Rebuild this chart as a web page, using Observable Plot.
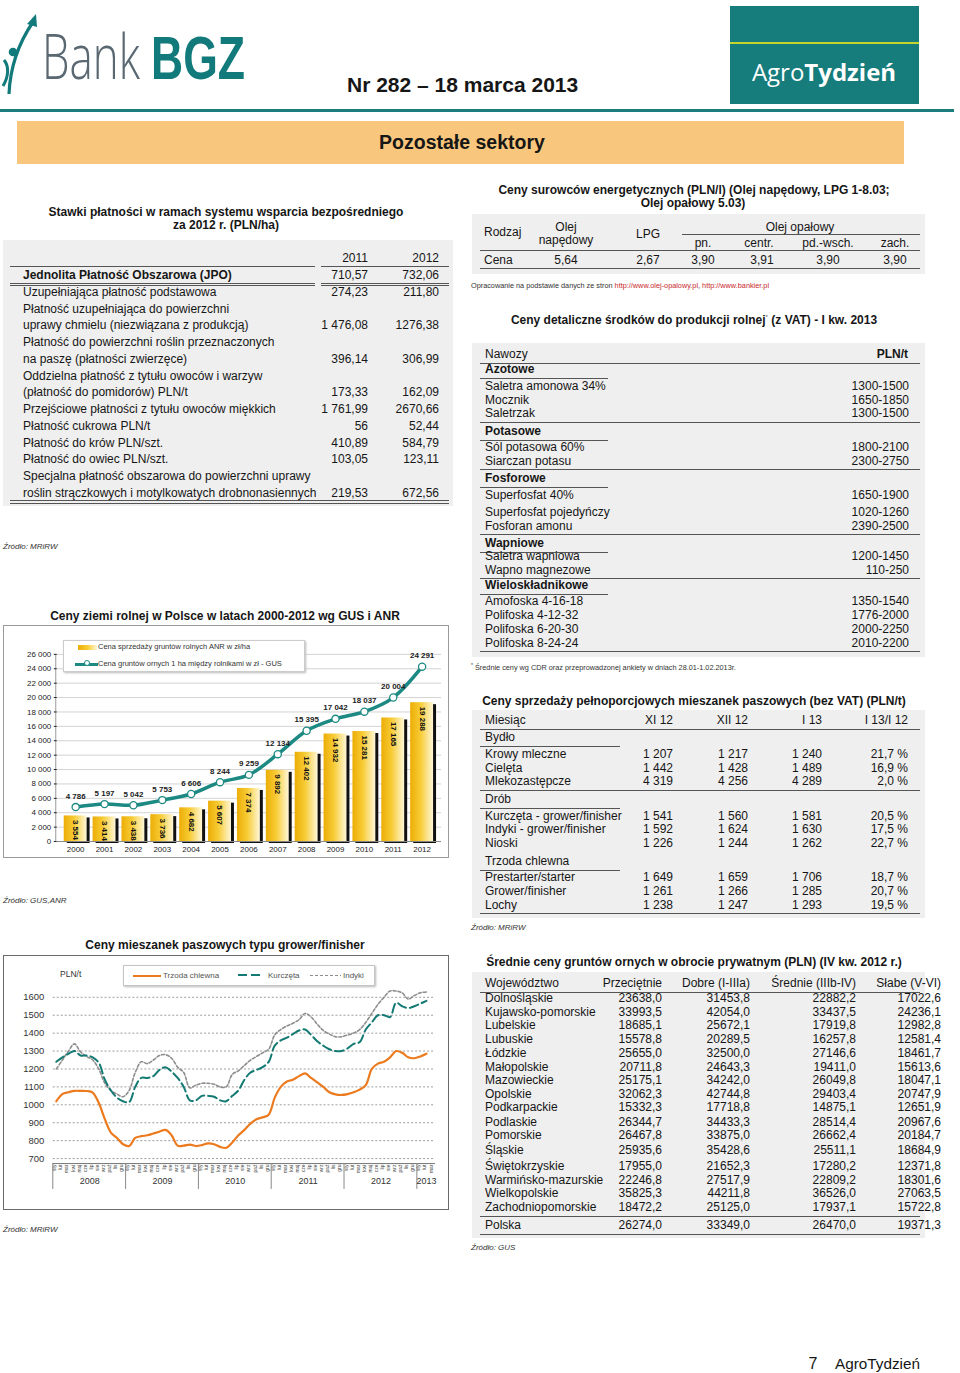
<!DOCTYPE html>
<html><head><meta charset="utf-8">
<script src="https://cdn.jsdelivr.net/npm/d3@7"></script>
<script src="https://cdn.jsdelivr.net/npm/@observablehq/plot@0.6"></script>
<style>
html,body{margin:0;padding:0;background:#fff;overflow:hidden;}
#page{position:relative;width:960px;height:1373px;font-family:"Liberation Sans",Arial,sans-serif;color:#111;}
</style></head>
<body><div id="page"></div>
<script>
// ---------------- DATA ----------------
const landYears = ["2000","2001","2002","2003","2004","2005","2006","2007","2008","2009","2010","2011","2012"];
const anrPrice = [3554,3414,3438,3736,4682,5607,7374,9892,12402,14932,15281,17165,19288];
const gusPrice = [4786,5197,5042,5753,6606,8244,9259,12134,15395,17042,18037,20004,24291];
const landTicks = [0,2000,4000,6000,8000,10000,12000,14000,16000,18000,20000,22000,24000,26000];

// monthly Jan 2008 - Feb 2013
const pigFeed = [1020,1060,1070,1078,1078,1077,1068,1010,920,845,815,780,
  770,815,825,830,840,850,860,830,772,772,778,770,
  775,785,780,765,760,790,830,860,895,920,930,945,
  1040,1100,1130,1140,1160,1175,1150,1125,1100,1070,1058,1055,
  1060,1070,1085,1110,1200,1230,1240,1265,1300,1290,1265,1260,
  1270,1285];
const chickenFeed = [1240,1265,1285,1300,1275,1275,1265,1235,1140,1080,1040,1020,
  1015,1100,1150,1150,1160,1195,1210,1185,1150,1100,1025,1025,
  1050,1050,1045,1025,1020,1050,1080,1140,1180,1195,1210,1240,
  1330,1360,1375,1395,1415,1420,1390,1355,1330,1310,1300,1300,
  1315,1340,1350,1420,1460,1500,1500,1490,1570,1550,1540,1550,
  1565,1580];
const turkeyFeed = [1200,1250,1300,1340,1295,1270,1250,1200,1120,1080,1060,1045,
  1080,1180,1240,1230,1250,1275,1280,1260,1210,1180,1095,1110,
  1120,1120,1115,1100,1100,1170,1190,1220,1250,1270,1290,1310,
  1390,1420,1440,1455,1475,1510,1490,1450,1415,1395,1380,1380,
  1390,1400,1420,1460,1510,1560,1600,1635,1635,1625,1590,1610,
  1625,1630];
const feedTicks = [700,800,900,1000,1100,1200,1300,1400,1500,1600];
const feedYears = ["2008","2009","2010","2011","2012","2013"];
const monthAbbr = ["sty","lut","mar","kwi","maj","cze","lip","sie","wrz","paź","lis","gru"];
const feedSeriesNames = ["Trzoda chlewna","Kurczęta","Indyki"];

const paymentCols = ["2011","2012"];
const paymentRows = [
 ["Jednolita Płatność Obszarowa (JPO)","710,57","732,06"],
 ["Uzupełniająca płatność podstawowa","274,23","211,80"],
 ["Płatność uzupełniająca do powierzchni","",""],
 ["uprawy chmielu (niezwiązana z produkcją)","1 476,08","1276,38"],
 ["Płatność do powierzchni roślin przeznaczonych","",""],
 ["na paszę (płatności zwierzęce)","396,14","306,99"],
 ["Oddzielna płatność z tytułu owoców i warzyw","",""],
 ["(płatność do pomidorów) PLN/t","173,33","162,09"],
 ["Przejściowe płatności z tytułu owoców miękkich","1 761,99","2670,66"],
 ["Płatność cukrowa PLN/t","56","52,44"],
 ["Płatność do krów PLN/szt.","410,89","584,79"],
 ["Płatność do owiec PLN/szt.","103,05","123,11"],
 ["Specjalna płatność obszarowa do powierzchni uprawy","",""],
 ["roślin strączkowych i motylkowatych drobnonasiennych","219,53","672,56"]
];

const energyCols = ["pn.","centr.","pd.-wsch.","zach."];
const energyPrices = ["5,64","2,67","3,90","3,91","3,90","3,90"];

const fertGroups = ["Azotowe","Potasowe","Fosforowe","Wapniowe","Wieloskładnikowe"];
const fertItems = [
 [["Saletra amonowa 34%","1300-1500"],["Mocznik","1650-1850"],["Saletrzak","1300-1500"]],
 [["Sól potasowa 60%","1800-2100"],["Siarczan potasu","2300-2750"]],
 [["Superfosfat 40%","1650-1900"],["Superfosfat pojedyńczy","1020-1260"],["Fosforan amonu","2390-2500"]],
 [["Saletra wapniowa","1200-1450"],["Wapno magnezowe","110-250"]],
 [["Amofoska 4-16-18","1350-1540"],["Polifoska 4-12-32","1776-2000"],["Polifoska 6-20-30","2000-2250"],["Polifoska 8-24-24","2010-2200"]]
];

const mixCols = ["Miesiąc","XI 12","XII 12","I 13","I 13/I 12"];
const mixGroups = ["Bydło","Drób","Trzoda chlewna"];
const mixItems = [
 [["Krowy mleczne","1 207","1 217","1 240","21,7 %"],["Cielęta","1 442","1 428","1 489","16,9 %"],["Mlekozastępcze","4 319","4 256","4 289","2,0 %"]],
 [["Kurczęta - grower/finisher","1 541","1 560","1 581","20,5 %"],["Indyki - grower/finisher","1 592","1 624","1 630","17,5 %"],["Nioski","1 226","1 244","1 262","22,7 %"]],
 [["Prestarter/starter","1 649","1 659","1 706","18,7 %"],["Grower/finisher","1 261","1 266","1 285","20,7 %"],["Lochy","1 238","1 247","1 293","19,5 %"]]
];

const soilCols = ["Województwo","Przeciętnie","Dobre (I-IIIa)","Średnie (IIIb-IV)","Słabe (V-VI)"];
const soilRows = [
 ["Dolnośląskie","23638,0","31453,8","22882,2","17022,6"],
 ["Kujawsko-pomorskie","33993,5","42054,0","33437,5","24236,1"],
 ["Lubelskie","18685,1","25672,1","17919,8","12982,8"],
 ["Lubuskie","15578,8","20289,5","16257,8","12581,4"],
 ["Łódzkie","25655,0","32500,0","27146,6","18461,7"],
 ["Małopolskie","20711,8","24643,3","19411,0","15613,6"],
 ["Mazowieckie","25175,1","34242,0","26049,8","18047,1"],
 ["Opolskie","32062,3","42744,8","29403,4","20747,9"],
 ["Podkarpackie","15332,3","17718,8","14875,1","12651,9"],
 ["Podlaskie","26344,7","34433,3","28514,4","20967,6"],
 ["Pomorskie","26467,8","33875,0","26662,4","20184,7"],
 ["Śląskie","25935,6","35428,6","25511,1","18684,9"],
 ["Świętokrzyskie","17955,0","21652,3","17280,2","12371,8"],
 ["Warmińsko-mazurskie","22246,8","27517,9","22809,2","18301,6"],
 ["Wielkopolskie","35825,3","44211,8","36526,0","27063,5"],
 ["Zachodniopomorskie","18472,2","25125,0","17937,1","15722,8"]
];
const soilTotal = ["Polska","26274,0","33349,0","26470,0","19371,3"];

// ---------------- HELPERS ----------------
const page = document.getElementById("page");
const FONT = '"Liberation Sans", Arial, sans-serif';
function T(x, y, s, o = {}) {
  const d = document.createElement("div");
  if (o.html) d.innerHTML = s; else d.textContent = s;
  Object.assign(d.style, {position:"absolute", top:y+"px", whiteSpace:"nowrap", fontSize:(o.size||12)+"px",
    lineHeight:"1", fontFamily:o.family||FONT, fontWeight:o.weight||"normal", color:o.color||"#161616",
    fontStyle:o.style||"normal", letterSpacing:o.ls||"normal"});
  const a = o.anchor || "start";
  if (a === "start") { d.style.left = x+"px"; d.style.transform = "translateY(-50%)"; }
  else if (a === "end") { d.style.right = (960-x)+"px"; d.style.transform = "translateY(-50%)"; }
  else { d.style.left = x+"px"; d.style.transform = "translate(-50%,-50%)"; }
  page.appendChild(d); return d;
}
function R(x, y, w, h, bg, extra = {}) {
  const d = document.createElement("div");
  Object.assign(d.style, {position:"absolute", left:x+"px", top:y+"px", width:w+"px", height:h+"px", background:bg}, extra);
  page.appendChild(d); return d;
}
function L(x1, x2, y, c = "#444", t = 1) { return R(x1, y, x2-x1, t, c); }

// ---------------- HEADER ----------------
const ns = "http://www.w3.org/2000/svg";
const logo = document.createElementNS(ns, "svg");
logo.setAttribute("width", 300); logo.setAttribute("height", 100);
logo.style.cssText = "position:absolute;left:0;top:0";
logo.innerHTML = `
 <path d="M9 94 C 10 70, 18 44, 33 22" stroke="#137a7b" stroke-width="3.2" fill="none"/>
 <path d="M36 14 L27 24 L37 27 Z" fill="#137a7b"/>
 <circle cx="13" cy="52" r="4.3" fill="#137a7b"/>
 <path d="M4 60 C 9 66, 9 76, 3 86" stroke="#137a7b" stroke-width="3" fill="none"/>
 <g id="gBank" transform="translate(42,79)"><text font-family="Open Sans, Liberation Sans, sans-serif" font-weight="300" font-size="62" fill="#5a6872">Bank</text></g>
 <g id="gBGZ" transform="translate(151,79)"><text font-family="Liberation Sans, Arial, sans-serif" font-weight="bold" font-size="62" fill="#137a7b">BGZ</text></g>`;
page.appendChild(logo);
[["gBank", 42, 98], ["gBGZ", 151, 94]].forEach(([id, x, w]) => {
  const g = logo.querySelector("#" + id);
  const len = g.querySelector("text").getComputedTextLength() || w;
  g.setAttribute("transform", `translate(${x},79) scale(${w / len},1)`);
});
T(347, 84, "Nr 282 – 18 marca 2013", {size:21, weight:"bold", family:'"Liberation Sans Narrow", "Liberation Sans", Arial, sans-serif'});
R(730, 6, 189, 98, "#167c7c");
L(730, 919, 42, "#c3d52e", 2);
T(824, 72, 'Agro<b>Tydzień</b>', {html:true, size:24, color:"#fff", anchor:"middle", family:'"Open Sans", "Liberation Sans", sans-serif'});
L(0, 954, 109, "#1b7d7d", 3);
R(17, 121, 887, 43, "#f8c67c");
T(462, 143, "Pozostałe sektory", {size:19.5, weight:"bold", anchor:"middle"});

// ---------------- LEFT: payments table ----------------
T(226, 212, "Stawki płatności w ramach systemu wsparcia bezpośredniego", {size:12, weight:"bold", anchor:"middle"});
T(226, 225, "za 2012 r. (PLN/ha)", {size:12, weight:"bold", anchor:"middle"});
R(3, 240, 450, 266, "#efefef");
T(368, 258, paymentCols[0], {anchor:"end"});
T(439, 258, paymentCols[1], {anchor:"end"});
L(10, 315, 266, "#555"); L(321, 449, 266, "#555");
paymentRows.forEach((r, i) => {
  const y = 275 + i * 16.75;
  const bold = i === 0 ? "bold" : "normal";
  T(23, y, r[0], {weight:bold});
  if (r[1]) T(368, y, r[1], {anchor:"end"});
  if (r[2]) T(439, y, r[2], {anchor:"end"});
});
L(10, 315, 283, "#555"); L(10, 315, 285, "#555"); L(321, 449, 283, "#555"); L(321, 449, 285, "#555");
L(10, 449, 500, "#555"); L(10, 449, 502.5, "#555");
T(3, 547, "Źródło: MRiRW", {size:8, style:"italic", color:"#333"});

// ---------------- LEFT: land price chart ----------------
T(225, 616, "Ceny ziemi rolnej w Polsce w latach 2000-2012 wg GUS i ANR", {size:12, weight:"bold", anchor:"middle"});
const box1 = R(3, 625, 446, 233, "#fff", {border:"1px solid #9a9a9a", boxSizing:"border-box"});
const landData = landYears.map((y, i) => ({year:y, anr:anrPrice[i], gus:gusPrice[i]}));
const sp = d => d3.format(",")(d).replace(/,/g, "\u00a0");
const gradDefs = () => {
  const defs = document.createElementNS(ns, "defs");
  defs.innerHTML = `<linearGradient id="barGrad" x1="0" x2="1" y1="0" y2="0">
    <stop offset="0" stop-color="#ecad06"/><stop offset="0.45" stop-color="#f7cc35"/><stop offset="1" stop-color="#fff7d8"/></linearGradient>`;
  return defs;
};
const yAxisLine = (index, scales, values, dims) => {
  const l = document.createElementNS(ns, "line");
  l.setAttribute("x1", dims.marginLeft - 1); l.setAttribute("x2", dims.marginLeft - 1);
  l.setAttribute("y1", dims.marginTop); l.setAttribute("y2", dims.height - dims.marginBottom);
  l.setAttribute("stroke", "#999");
  return l;
};
const landChart = Plot.plot({
  width:446, height:233, marginLeft:54, marginRight:6, marginTop:29, marginBottom:16,
  style:{fontFamily:FONT, fontSize:"8px", color:"#222", background:"transparent", overflow:"visible"},
  x:{domain:landYears, paddingInner:0.19, paddingOuter:0.1, label:null},
  y:{domain:[0,26000], label:null},
  marks:[
    gradDefs,
    Plot.gridY(landTicks, {stroke:"#c8c8c8", strokeOpacity:0.8}),
    yAxisLine,
    Plot.axisY(landTicks, {tickSize:3, tickPadding:3, tickFormat:sp, fontSize:8, label:null}),
    Plot.axisX({tickSize:0, tickPadding:5, fontSize:8, label:null}),
    Plot.barY(landData, {x:"year", y:"anr", fill:"#111", dx:3, dy:2}),
    Plot.barY(landData, {x:"year", y:"anr", fill:"url(#barGrad)"}),
    Plot.ruleY([0], {stroke:"#888"}),
    Plot.text(landData, {x:"year", y:"anr", text:d => sp(d.anr), rotate:90, textAnchor:"start", dy:4, fontWeight:"bold", fontSize:8, fill:"#111"}),
    Plot.line(landData, {x:"year", y:"gus", stroke:"#1c8a82", strokeWidth:3.5, curve:"catmull-rom"}),
    Plot.dot(landData, {x:"year", y:"gus", r:3.6, fill:"#fff", stroke:"#1c8a82", strokeWidth:1.3}),
    Plot.text(landData, {x:"year", y:"gus", text:d => sp(d.gus), dy:-11, fontWeight:"bold", fontSize:8, fill:"#222"})
  ]
});
landChart.style.position = "absolute"; landChart.style.left = "-1px"; landChart.style.top = "-1px";
box1.appendChild(landChart);
// legend
R(63, 640, 242, 32, "#fff", {border:"1px solid #ccc", boxShadow:"1px 1px 2px #bbb", boxSizing:"border-box"});
R(78, 645, 19, 5, "linear-gradient(90deg,#ecad06,#f7cc35,#fff7d8)");
T(98, 647, "Cena sprzedaży gruntów rolnych ANR w zł/ha", {size:7.5, color:"#333"});
L(75, 98, 663, "#1c8a82", 3);
R(83.5, 660, 6, 6, "#fff", {border:"1.2px solid #1c8a82", borderRadius:"50%", boxSizing:"border-box"});
T(98, 664, "Cena gruntów ornych 1 ha między rolnikami w zł - GUS", {size:7.5, color:"#333"});
T(3, 901, "Źródło: GUS,ANR", {size:8, style:"italic", color:"#333"});

// ---------------- LEFT: feed price line chart ----------------
T(225, 945, "Ceny mieszanek paszowych typu grower/finisher", {size:12, weight:"bold", anchor:"middle"});
const box2 = R(3, 955, 446, 255, "#fff", {border:"1px solid #6a6a6a", boxSizing:"border-box"});
const feedRows = [];
[pigFeed, chickenFeed, turkeyFeed].forEach((arr, s) => arr.forEach((v, i) => feedRows.push({m:i + 0.5, v, s:feedSeriesNames[s]})));
const monthTicks = [];
for (let i = 0; i < 63; i++) monthTicks.push({m:i + 0.5, label:monthAbbr[i % 12]});
const yearMid = feedYears.map((y, i) => ({year:y, mid: i < 5 ? i * 12 + 6 : 61.5}));
const yearBounds = [0, 12, 24, 36, 48, 60];
const yearSep = (index, scales, values, dims) => {
  const g = document.createElementNS(ns, "g");
  const y0 = dims.height - dims.marginBottom + 5;
  for (const b of yearBounds) {
    const l = document.createElementNS(ns, "line");
    const x = scales.x(b);
    l.setAttribute("x1", x); l.setAttribute("x2", x);
    l.setAttribute("y1", y0); l.setAttribute("y2", y0 + 26);
    l.setAttribute("stroke", "#888");
    g.appendChild(l);
  }
  return g;
};
const feedChart = Plot.plot({
  width:446, height:255, marginLeft:50, marginRight:12, marginTop:42, marginBottom:51,
  style:{fontFamily:FONT, fontSize:"9px", color:"#333", background:"transparent", overflow:"visible"},
  x:{domain:[0,63], label:null, axis:null},
  y:{domain:[700,1600], label:null},
  marks:[
    Plot.ruleY(feedTicks, {stroke:"#9c9c9c", strokeDasharray:"2,2"}),
    Plot.axisY(feedTicks, {tickSize:0, tickPadding:9, fontSize:9.5, label:null, fill:"#333", tickFormat:d => String(d)}),
    Plot.ruleY([700], {stroke:"#777", dy:5}),
    yearSep,
    Plot.text(monthTicks, {x:"m", text:"label", frameAnchor:"bottom", rotate:-90, textAnchor:"end", dy:6, fontSize:5, fill:"#444"}),
    Plot.text(yearMid, {x:"mid", text:"year", frameAnchor:"bottom", dy:26, fontSize:9, fill:"#333"}),
    Plot.line(feedRows.filter(d => d.s === "Indyki"), {x:"m", y:"v", stroke:"#8d8d8d", strokeWidth:1.6, strokeDasharray:"3,2", curve:"catmull-rom"}),
    Plot.line(feedRows.filter(d => d.s === "Kurczęta"), {x:"m", y:"v", stroke:"#137a73", strokeWidth:2, strokeDasharray:"9,4", curve:"catmull-rom"}),
    Plot.line(feedRows.filter(d => d.s === "Trzoda chlewna"), {x:"m", y:"v", stroke:"#ec7a1e", strokeWidth:2.2, curve:"catmull-rom"})
  ]
});
feedChart.style.position = "absolute"; feedChart.style.left = "-1px"; feedChart.style.top = "-1px";
box2.appendChild(feedChart);
T(60, 974, "PLN/t", {size:8.5, color:"#333"});
R(123, 965, 252, 21, "#fff", {border:"1px solid #c4c4c4", boxShadow:"1px 1px 2px #bbb", boxSizing:"border-box"});
L(133, 161, 975, "#ec7a1e", 2);
T(163, 975.5, feedSeriesNames[0], {size:8, color:"#555"});
R(238, 974, 26, 2, "repeating-linear-gradient(90deg,#137a73 0 9px,transparent 9px 13px)");
T(268, 975.5, feedSeriesNames[1], {size:8, color:"#555"});
R(310, 974.5, 31, 1.5, "repeating-linear-gradient(90deg,#8d8d8d 0 3px,transparent 3px 5px)");
T(343, 975.5, feedSeriesNames[2], {size:8, color:"#555"});
T(3, 1230, "Źródło: MRiRW", {size:8, style:"italic", color:"#333"});

// ---------------- RIGHT: energy table ----------------
T(694, 190, "Ceny surowców energetycznych (PLN/l) (Olej napędowy, LPG 1-8.03;", {size:12, weight:"bold", anchor:"middle"});
T(693, 203, "Olej opałowy 5.03)", {size:12, weight:"bold", anchor:"middle"});
R(472, 214, 453, 60, "#efefef");
T(484, 232, "Rodzaj");
T(566, 227, "Olej", {anchor:"middle"});
T(566, 240, "napędowy", {anchor:"middle"});
T(648, 234, "LPG", {anchor:"middle"});
T(800, 227, "Olej opałowy", {anchor:"middle"});
L(682, 920, 234, "#555");
const eX = [703, 759, 828, 895];
energyCols.forEach((c, i) => T(eX[i], 243, c, {anchor:"middle"}));
L(480, 920, 250, "#555");
T(484, 260, "Cena");
const pX = [566, 648, 703, 762, 828, 895];
energyPrices.forEach((v, i) => T(pX[i], 260, v, {anchor:"middle"}));
L(480, 920, 268, "#555");
T(471, 286, 'Opracowanie na podstawie danych ze stron <span style="color:#c8282d">http://www.olej-opalowy.pl</span>, <span style="color:#c8282d">http://www.bankier.pl</span>', {html:true, size:7.3, color:"#333"});

// ---------------- RIGHT: fertilizer table ----------------
T(694, 320, 'Ceny detaliczne środków do produkcji rolnej<sup style="font-size:6px;font-weight:normal;color:#555">*</sup> (z VAT) - I kw. 2013', {html:true, size:12, weight:"bold", anchor:"middle"});
R(472, 343, 453, 314, "#efefef");
T(485, 354, "Nawozy");
T(908, 354, "PLN/t", {weight:"bold", anchor:"end"});
L(480, 920, 363, "#555");
const fGroupY = [369, 431, 478, 543, 585];
const fItemY = [[386,400,413],[447,461],[495,512,526],[556,570],[601,615,629,643]];
const fLineY = [422, 469, 534, 578, 651];
fertGroups.forEach((g, gi) => {
  T(485, fGroupY[gi], g, {weight:"bold"});
  L(480, 608, fGroupY[gi] + 8.5, "#555");
  fertItems[gi].forEach((it, ii) => {
    T(485, fItemY[gi][ii], it[0]);
    T(909, fItemY[gi][ii], it[1], {anchor:"end"});
  });
  L(480, 920, fLineY[gi], "#555");
});
T(471, 667, '<sup style="font-size:5px">*</sup> Średnie ceny wg CDR oraz przeprowadzonej ankiety w dniach 28.01-1.02.2013r.', {html:true, size:7.3, color:"#333"});

// ---------------- RIGHT: feed mix table ----------------
T(694, 701, "Ceny sprzedaży pełnoporcjowych mieszanek paszowych (bez VAT) (PLN/t)", {size:12, weight:"bold", anchor:"middle"});
R(472, 710, 453, 208, "#efefef");
const mX = [673, 748, 822, 908];
T(485, 720, mixCols[0]);
mixCols.slice(1).forEach((c, i) => T(mX[i], 720, c, {anchor:"end"}));
L(480, 920, 729, "#555");
const mGroupY = [737, 799, 861];
const mItemY = [[754,768,781],[816,829,843],[877,891,905]];
mixGroups.forEach((g, gi) => {
  T(485, mGroupY[gi], g);
  L(480, 620, mGroupY[gi] + 8.5, "#555");
  mixItems[gi].forEach((r, ii) => {
    T(485, mItemY[gi][ii], r[0]);
    r.slice(1).forEach((v, k) => T(mX[k], mItemY[gi][ii], v, {anchor:"end"}));
  });
});
L(480, 920, 790, "#555");
L(480, 920, 913, "#555");
T(471, 928, "Źródło: MRiRW", {size:8, style:"italic", color:"#333"});

// ---------------- RIGHT: soil price table ----------------
T(694, 962, "Średnie ceny gruntów ornych w obrocie prywatnym (PLN) (IV kw. 2012 r.)", {size:12, weight:"bold", anchor:"middle"});
R(472, 972, 453, 266, "#efefef");
const sX = [662, 750, 856, 941];
T(485, 983, soilCols[0]);
soilCols.slice(1).forEach((c, i) => T(sX[i], 983, c, {anchor:"end"}));
L(480, 920, 992, "#555");
const sRowY = [998,1012,1025,1039,1053,1067,1080,1094,1107,1122,1135,1150,1166,1180,1193,1207];
soilRows.forEach((r, i) => {
  T(485, sRowY[i], r[0]);
  r.slice(1).forEach((v, k) => T(sX[k], sRowY[i], v, {anchor:"end"}));
});
L(480, 920, 1216, "#555");
T(485, 1225, soilTotal[0]);
soilTotal.slice(1).forEach((v, k) => T(sX[k], 1225, v, {anchor:"end"}));
L(480, 920, 1234, "#555");
T(471, 1248, "Źródło: GUS", {size:8, style:"italic", color:"#333"});

// ---------------- FOOTER ----------------
T(813, 1364, "7", {size:16, anchor:"middle"});
T(835, 1364, "AgroTydzień", {size:15.3});
</script>
</body></html>
